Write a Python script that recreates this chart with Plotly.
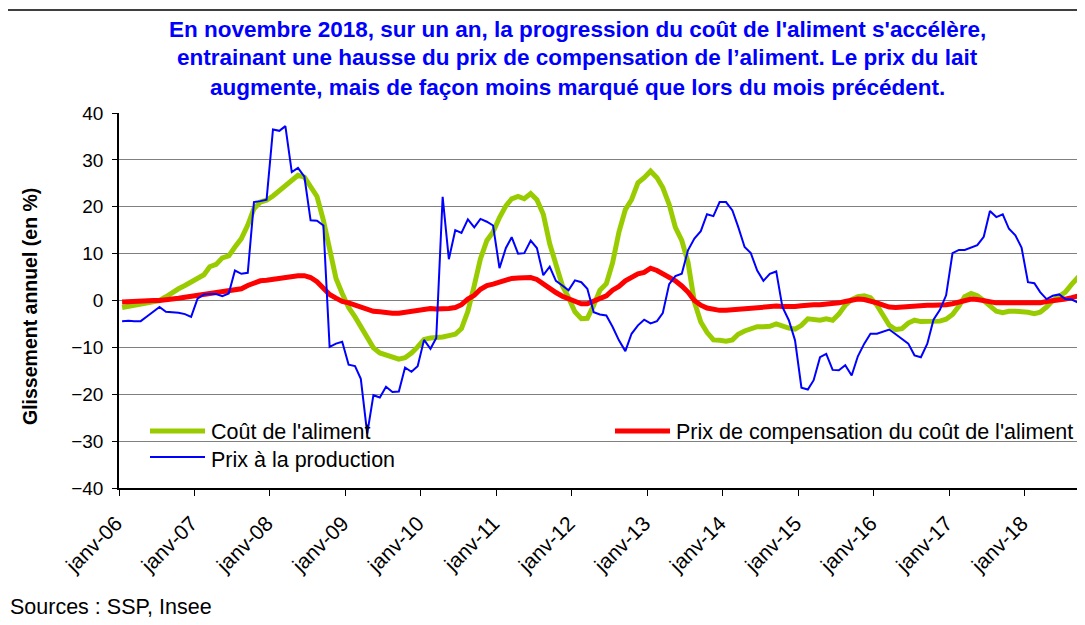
import pandas as pd
import plotly.graph_objects as go

# ---------------- data (monthly, janv-06 .. nov-18) ----------------
start_month = "2006-01-01"

cout_aliment = [
    -1.5, -1.2, -1.0, -0.9, -0.5, -0.2, 0.0, 0.8, 1.8, 2.5, 3.2, 4.0,          # 2006
    4.8, 5.5, 7.2, 7.7, 9.1, 9.5, 11.4, 13.2, 16.1, 19.6, 21.0, 21.4,          # 2007
    22.3, 23.5, 24.5, 25.8, 26.7, 26.3, 24.4, 22.2, 17.1, 11.1, 4.7, 1.5,      # 2008
    -1.5, -3.5, -5.6, -8.0, -10.1, -11.2, -11.7, -12.1, -12.5, -12.2, -11.2, -9.9,  # 2009
    -8.3, -8.0, -8.0, -7.8, -7.5, -7.2, -6.0, -2.3, 3.2, 8.9, 12.8, 14.6,      # 2010
    17.7, 20.2, 21.7, 22.2, 21.7, 22.8, 21.5, 18.4, 12.1, 7.5, 3.2, 0.6,       # 2011
    -2.4, -3.9, -3.8, -1.0, 2.2, 3.6, 8.0, 14.6, 19.4, 21.5, 25.1, 26.2,       # 2012
    27.6, 26.2, 24.1, 20.5, 15.6, 12.8, 8.2, -0.3, -4.6, -6.8, -8.4, -8.5,     # 2013
    -8.7, -8.4, -7.2, -6.5, -6.0, -5.6, -5.6, -5.5, -5.0, -5.5, -5.9, -6.1,    # 2014
    -5.3, -3.9, -4.0, -4.2, -3.9, -4.2, -2.9, -1.0, 0.2, 0.8, 1.0, 0.6,        # 2015
    -1.0, -3.2, -5.3, -6.2, -6.0, -4.8, -4.2, -4.5, -4.4, -4.4, -4.4, -4.0,    # 2016
    -3.0, -1.2, 0.8, 1.5, 1.0, 0.0, -1.2, -2.3, -2.6, -2.3, -2.3, -2.3,        # 2017
    -2.5, -2.8, -2.5, -1.4, 0.0, 0.9, 1.8, 3.5, 5.0, 6.4, 7.5,                 # 2018
]

prix_compensation = [
    -0.3, -0.2, -0.2, -0.1, 0.0, 0.0, 0.0, 0.1, 0.3, 0.5, 0.7, 0.9,           # 2006
    1.1, 1.3, 1.5, 1.6, 1.7, 1.9, 2.2, 2.5, 3.2, 3.7, 4.2, 4.3,               # 2007
    4.5, 4.8, 5.0, 5.1, 5.3, 5.3, 4.9, 4.0, 2.7, 1.3, 0.5, -0.2,              # 2008
    -0.5, -0.9, -1.4, -1.9, -2.3, -2.4, -2.6, -2.7, -2.7, -2.5, -2.2, -1.9,   # 2009
    -1.7, -1.7, -1.8, -1.8, -1.7, -1.5, -0.9, 0.3, 1.1, 2.4, 3.2, 3.5,        # 2010
    3.9, 4.4, 4.7, 4.8, 4.9, 4.9, 4.5, 3.5, 2.5, 1.7, 0.9, 0.3,               # 2011
    -0.3, -0.7, -0.7, -0.2, 0.4, 1.0, 2.2, 3.0, 4.2, 5.0, 5.7, 6.0,           # 2012
    6.9, 6.4, 5.7, 5.0, 4.2, 3.1, 1.8, 0.0, -1.0, -1.6, -1.9, -2.1,           # 2013
    -2.1, -2.0, -1.9, -1.7, -1.5, -1.5, -1.4, -1.3, -1.2, -1.3, -1.4, -1.3,   # 2014
    -1.1, -0.9, -0.9, -0.9, -0.8, -0.7, -0.5, -0.2, 0.1, 0.3, 0.2, -0.1,      # 2015
    -0.5, -1.0, -1.4, -1.5, -1.4, -1.2, -1.0, -1.0, -1.0, -1.0, -1.0, -0.9,   # 2016
    -0.7, -0.3, 0.1, 0.3, 0.2, -0.1, -0.4, -0.5, -0.5, -0.5, -0.5, -0.5,      # 2017
    -0.5, -0.5, -0.5, -0.2, -0.1, 0.1, 0.3, 0.6, 1.0, 1.3, 1.7,               # 2018
]

prix_production = [
    -4.4, -4.3, -4.4, -4.4, -3.4, -2.4, -1.4, -2.4, -2.5, -2.6, -2.9, -3.5,        # 2006
    0.4, 1.3, 1.4, 1.4, 0.9, 1.5, 6.4, 5.7, 5.9, 21.0, 21.2, 21.5,                # 2007
    36.5, 36.2, 37.2, 27.4, 28.3, 26.4, 17.1, 17.0, 16.0, -9.9, -9.2, -8.8,       # 2008
    -13.7, -14.0, -16.7, -28.4, -20.2, -20.7, -18.4, -19.5, -19.4, -14.3, -15.2, -14.0,  # 2009
    -8.4, -10.3, -8.0, 22.1, 8.8, 15.0, 14.4, 17.3, 15.6, 17.4, 16.8, 16.0,       # 2010
    6.9, 11.2, 13.5, 10.0, 10.1, 12.8, 11.2, 5.4, 7.2, 4.2, 3.2, 2.2,             # 2011
    4.3, 3.9, 2.5, -2.5, -3.0, -3.2, -5.6, -8.5, -10.8, -7.1, -5.3, -4.1,         # 2012
    -4.9, -4.4, -2.7, 3.5, 5.2, 5.7, 10.7, 13.2, 14.8, 18.4, 18.0, 21.0,          # 2013
    21.0, 19.2, 15.7, 11.4, 10.1, 6.4, 4.2, 5.7, 6.2, -1.4, -4.2, -8.5,           # 2014
    -18.6, -19.0, -17.0, -12.1, -11.4, -14.8, -14.9, -13.8, -16.0, -11.9, -9.2, -7.1,  # 2015
    -7.1, -6.7, -6.2, -7.2, -8.1, -9.2, -11.7, -12.1, -9.2, -4.1, -2.0, 1.1,      # 2016
    10.1, 10.8, 10.8, 11.3, 11.8, 13.6, 19.1, 17.8, 18.4, 15.3, 13.9, 11.3,       # 2017
    3.9, 3.7, 1.8, 0.3, 1.0, 1.3, 0.3, 0.2, -0.5, 1.3, 2.0,                       # 2018
]

series_names = [
    "Coût de l'aliment",
    "Prix de compensation du coût de l'aliment",
    "Prix à la production",
]

tick_dates = ["2006-01-01", "2007-01-01", "2008-01-01", "2009-01-01", "2010-01-01",
              "2011-01-01", "2012-01-01", "2013-01-01", "2014-01-01", "2015-01-01",
              "2016-01-01", "2017-01-01", "2018-01-01"]
tick_labels = ["janv-06", "janv-07", "janv-08", "janv-09", "janv-10", "janv-11", "janv-12",
               "janv-13", "janv-14", "janv-15", "janv-16", "janv-17", "janv-18"]
y_ticks = [-40, -30, -20, -10, 0, 10, 20, 30, 40]

title_lines = [
    "En novembre 2018, sur un an, la progression du coût de l'aliment s'accélère,",
    "entrainant une hausse du prix de compensation de l’aliment. Le prix du lait",
    "augmente, mais de façon moins marqué que lors du mois précédent.",
]
y_title = "Glissement annuel (en %)"
source_text = "Sources : SSP, Insee"

# ---------------- figure ----------------
PAGE_W, PAGE_H = 1085, 625
OFF = 8                               # default body margin of the html page
W, H = PAGE_W - OFF, PAGE_H - OFF
L, R, T, B = 119, 1085, 113, 488      # plot area, page pixels

def px_x(px):
    return (px - L) / (R - L)

def px_y(py):
    return (B - py) / (B - T)

FONT = "Liberation Sans, Arial, sans-serif"
GREEN = "#99CC00"
RED = "#FF0000"
BLUE = "#0000FF"

n = max(len(cout_aliment), len(prix_compensation), len(prix_production))
months = pd.date_range(start=start_month, periods=n, freq="MS") + pd.Timedelta(days=15)

fig = go.Figure()
for vals, name, color, width in [
    (cout_aliment, series_names[0], GREEN, 5),
    (prix_compensation, series_names[1], RED, 5),
    (prix_production, series_names[2], BLUE, 2),
]:
    fig.add_trace(go.Scatter(
        x=months[:len(vals)], y=vals, mode="lines", name=name,
        line=dict(color=color, width=width), showlegend=False,
    ))

fig.update_layout(
    width=W, height=H,
    margin=dict(l=L - OFF, r=PAGE_W - R, t=T - OFF, b=PAGE_H - B, autoexpand=False),
    paper_bgcolor="white", plot_bgcolor="white",
    font=dict(family=FONT, size=19, color="black"),
    showlegend=False,
)

fig.update_xaxes(
    type="date",
    range=["2006-01-01", "2018-10-19"],
    tickvals=tick_dates, ticktext=tick_labels,
    tickangle=-45,
    ticks="outside", ticklen=6, tickcolor="black", tickwidth=1,
    ticklabelstandoff=7, ticklabelshift=-3,
    showline=True, linecolor="black", linewidth=1.5,
    showgrid=False, zeroline=False,
    tickfont=dict(family=FONT, size=21, color="black"),
)
fig.update_yaxes(
    range=[-40, 40],
    tickvals=y_ticks,
    ticks="outside", ticklen=5, tickcolor="black", tickwidth=1,
    ticklabelstandoff=5,
    showline=True, linecolor="black", linewidth=1.5,
    showgrid=True, gridcolor="#808080", gridwidth=1,
    zeroline=False,
    tickfont=dict(family=FONT, size=19, color="black"),
)

shapes = []
# legend backdrop hiding the -30 gridline (above grid, below traces)
shapes.append(dict(type="rect", xref="paper", yref="paper",
                   x0=px_x(143), x1=px_x(1075), y0=px_y(472), y1=px_y(418),
                   fillcolor="white", line=dict(width=0), layer="between"))
# legend line samples
shapes.append(dict(type="line", xref="paper", yref="paper",
                   x0=px_x(150), x1=px_x(205), y0=px_y(431), y1=px_y(431),
                   line=dict(color=GREEN, width=5)))
shapes.append(dict(type="line", xref="paper", yref="paper",
                   x0=px_x(615), x1=px_x(670), y0=px_y(431), y1=px_y(431),
                   line=dict(color=RED, width=5)))
shapes.append(dict(type="line", xref="paper", yref="paper",
                   x0=px_x(150), x1=px_x(205), y0=px_y(457), y1=px_y(457),
                   line=dict(color=BLUE, width=2)))
# outer frame
shapes.append(dict(type="rect", xref="paper", yref="paper",
                   x0=px_x(7), x1=px_x(1100), y0=px_y(640), y1=px_y(10),
                   line=dict(color="black", width=1.5), fillcolor="rgba(0,0,0,0)"))
fig.update_layout(shapes=shapes)

annotations = []
for line, cy in zip(title_lines, [30, 58, 87]):
    annotations.append(dict(
        text=f"<b>{line}</b>", xref="paper", yref="paper",
        x=px_x(577), y=px_y(cy), xanchor="center", yanchor="middle",
        showarrow=False, font=dict(family=FONT, size=22.5, color="#0000FF"),
    ))
annotations.append(dict(
    text=f"<b>{y_title}</b>", xref="paper", yref="paper",
    x=px_x(30), y=px_y(307), xanchor="center", yanchor="middle",
    textangle=-90, showarrow=False, font=dict(family=FONT, size=19.5, color="black"),
))
annotations.append(dict(
    text=source_text, xref="paper", yref="paper",
    x=px_x(8), y=px_y(607), xanchor="left", yanchor="middle",
    showarrow=False, font=dict(family=FONT, size=21.5, color="black"),
))
for txt, lx, cy in [(series_names[0], 209, 432), (series_names[1], 674, 432),
                    (series_names[2], 209, 460)]:
    annotations.append(dict(
        text=txt, xref="paper", yref="paper",
        x=px_x(lx), y=px_y(cy), xanchor="left", yanchor="middle",
        showarrow=False, font=dict(family=FONT, size=21.5, color="black"),
    ))
fig.update_layout(annotations=annotations)

fig.write_html("out.html")
